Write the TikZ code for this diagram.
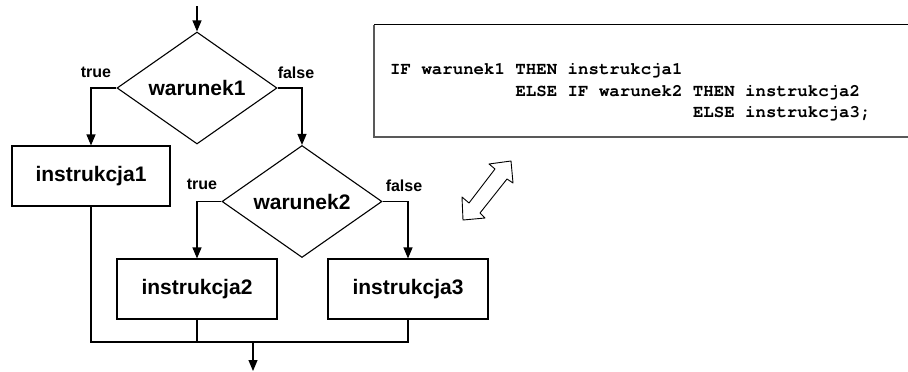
\documentclass[tikz,border=0pt]{standalone}
\usepackage{fontspec}
\setmainfont{Liberation Sans}
\newfontfamily\codefont{TeX Gyre Cursor}
\usetikzlibrary{shapes.geometric,arrows.meta}
\tikzset{
  flow/.style={line width=1.1pt, draw=black},
  arr/.style={flow, -{Triangle[length=11pt,width=9pt]}},
  stepbox/.style={draw=black, line width=1.1pt, rectangle, minimum width=158pt, minimum height=60pt, inner sep=0pt, font=\fontsize{21}{24}\selectfont\bfseries},
  decision/.style={draw=black, line width=1.1pt, diamond, aspect=1.43, minimum width=160pt, minimum height=112pt, inner sep=0pt, font=\fontsize{21}{24}\selectfont\bfseries},
  lbl/.style={inner sep=0pt, font=\fontsize{16}{18}\selectfont\bfseries},
  code/.style={inner sep=0pt, anchor=base west, font=\codefont\fontsize{17.4}{20}\selectfont\bfseries}
}
\begin{document}
\begin{tikzpicture}[x=1pt,y=-1pt]
\useasboundingbox (0,0) rectangle (908,372);
% flowchart
\coordinate (start) at (197,6);
\node[decision] (d1) at (197,88) {warunek1};
\node[stepbox] (b1) at (91,176) {instrukcja1};
\node[decision] (d2) at (302,201.5) {warunek2};
\node[stepbox, minimum width=160pt] (b2) at (197,289) {instrukcja2};
\node[stepbox, minimum width=160pt] (b3) at (408,289) {instrukcja3};
\coordinate (m) at (253,342);
\coordinate (end) at (253,371);
\draw[arr] (start) -- (d1.north);
\draw[arr] (d1.west) -| (b1.north);
\draw[arr] (d1.east) -| (d2.north);
\draw[arr] (d2.west) -| (b2.north);
\draw[arr] (d2.east) -| (b3.north);
\draw[flow] (b1.south) |- (m) -| (b3.south);
\draw[flow] (b2.south) -- (b2.south |- m);
\draw[arr] (m) -- (end);
\node[lbl] (t1) at (96,72) {true};
\node[lbl] (f1) at (296,73) {false};
\node[lbl] (t2) at (202,184) {true};
\node[lbl] (f2) at (404,186) {false};
% code box
\node[inner sep=0pt, minimum width=540pt, minimum height=112.5pt, anchor=north west] (codebox) at (374,24.5) {};
\draw[black, line width=1pt] (codebox.north west) -- (codebox.north east);
\draw[black!65, line width=2pt] (codebox.north west) -- (codebox.south west) -- (codebox.south east);
\node[code] (c1) at (390,74) {IF warunek1 THEN instrukcja1};
\node[code] (c2) at (515.3,96) {ELSE IF warunek2 THEN instrukcja2};
\node[code] (c3) at (692.8,117) {ELSE instrukcja3;};
% double arrow
\draw[black, line width=0.9pt, fill=white, line join=round]
  (511,161) -- (489,164) -- (495,169) -- (469,203) -- (462,197) -- (463,220)
  -- (485,218) -- (480,213) -- (507,179) -- (513,183) -- cycle;
\end{tikzpicture}
\end{document}
